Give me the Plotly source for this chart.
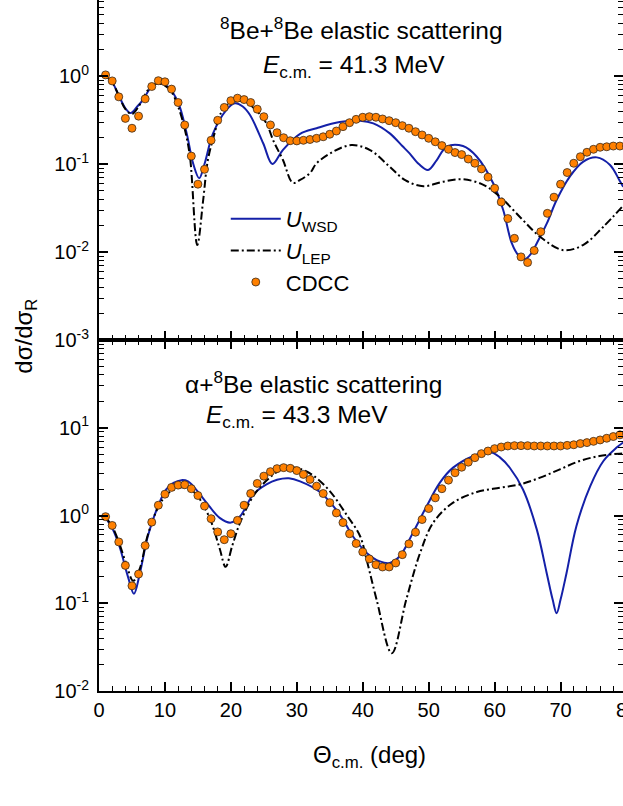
import plotly.graph_objects as go

# ---- data: 8Be+8Be, E_cm = 41.3 MeV (top panel) ----
cdcc_be_x = list(range(1, 81))
cdcc_be_y = [1.03, 0.88, 0.58, 0.33, 0.255, 0.35, 0.55, 0.76, 0.885, 0.86,
             0.71, 0.50, 0.278, 0.123, 0.059, 0.087, 0.186, 0.314, 0.44, 0.525,
             0.56, 0.54, 0.50, 0.42, 0.345, 0.278, 0.227, 0.199, 0.184, 0.183,
             0.186, 0.19, 0.196, 0.204, 0.218, 0.237, 0.266, 0.295, 0.322, 0.34,
             0.345, 0.34, 0.325, 0.311, 0.295, 0.273, 0.255, 0.233, 0.214, 0.196,
             0.179, 0.162, 0.147, 0.135, 0.128, 0.114, 0.102, 0.088, 0.071, 0.053,
             0.037, 0.024, 0.0143, 0.0088, 0.0076, 0.0104, 0.017, 0.0275, 0.042, 0.059,
             0.08, 0.102, 0.121, 0.136, 0.147, 0.155, 0.157, 0.16, 0.16, 0.16]

wsd_be_x = [1, 2, 3, 4, 4.8, 5.8, 6.7, 8, 9.2, 10.5, 12, 13.3, 14.3, 15.2, 16.0,
            17.3, 19.3, 20.6, 21.8, 22.9, 24.9, 26.3, 27.9, 30.5, 33, 36.5, 39.6,
            41.6, 44.1, 46, 47.1, 48.5, 49.9, 51.2, 52.7, 55.2, 57.3, 59.8, 61.3,
            62.6, 63.6, 64.6, 65.5, 66.4, 67.9, 69.4, 71.4, 73.4, 75.5, 77.5, 78.9, 79.5]
wsd_be_y = [1.0, 0.85, 0.6, 0.43, 0.38, 0.45, 0.54, 0.76, 0.83, 0.75, 0.5, 0.223,
            0.1, 0.069, 0.1, 0.223, 0.41, 0.49, 0.45, 0.36, 0.172, 0.1, 0.145, 0.22,
            0.255, 0.30, 0.31, 0.29, 0.223, 0.16, 0.132, 0.1, 0.0855, 0.11, 0.157,
            0.16, 0.121, 0.06, 0.03, 0.0126, 0.0092, 0.0083, 0.0095, 0.0126, 0.021,
            0.039, 0.072, 0.106, 0.119, 0.0975, 0.066, 0.055]

lep_be_x = [1, 2, 3, 4, 5, 6, 7, 8, 9, 10, 11, 12, 13, 13.8, 14.9, 15.8, 16.5,
            17.5, 18.5, 20, 21.4, 22.5, 23.5, 24.5, 25.4, 26.5, 27.9, 29.4, 30.5,
            32, 33, 35.5, 38.3, 41.1, 44.1, 46.5, 49.2, 52.2, 55.2, 58.3, 60.8,
            63.8, 66.9, 70.4, 73.4, 76.5, 79.4]
lep_be_y = [1.0, 0.85, 0.6, 0.42, 0.37, 0.45, 0.62, 0.78, 0.82, 0.78, 0.66, 0.45,
            0.25, 0.12, 0.012, 0.039, 0.11, 0.22, 0.38, 0.5, 0.52, 0.5, 0.43, 0.36,
            0.29, 0.18, 0.111, 0.061, 0.066, 0.079, 0.102, 0.138, 0.164, 0.144,
            0.093, 0.065, 0.056, 0.063, 0.067, 0.058, 0.0426, 0.0252, 0.0149,
            0.0105, 0.012, 0.0194, 0.033]

# ---- data: alpha+8Be, E_cm = 43.3 MeV (bottom panel) ----
cdcc_al_x = list(range(1, 81))
cdcc_al_y = [0.97, 0.77, 0.50, 0.27, 0.158, 0.215, 0.454, 0.84, 1.31, 1.75,
             2.09, 2.22, 2.24, 2.02, 1.69, 1.28, 0.92, 0.65, 0.53, 0.62,
             0.88, 1.31, 1.78, 2.32, 2.81, 3.16, 3.42, 3.51, 3.45, 3.25,
             2.94, 2.58, 2.16, 1.78, 1.40, 1.07, 0.83, 0.62, 0.48, 0.385,
             0.32, 0.275, 0.259, 0.259, 0.288, 0.358, 0.475, 0.645, 0.90, 1.20,
             1.59, 2.02, 2.53, 3.07, 3.55, 4.05, 4.56, 5.07, 5.43, 5.78,
             6.03, 6.2, 6.25, 6.25, 6.25, 6.2, 6.2, 6.2, 6.2, 6.2,
             6.3, 6.4, 6.6, 6.77, 7.0, 7.26, 7.59, 7.94, 8.3, 8.6]

wsd_al_x = [1, 2, 3.1, 4.4, 5.3, 6.2, 7.4, 8.95, 10.2, 11.3, 12.5, 13.5, 14.3,
            16.3, 18.3, 20, 21.4, 23.4, 25.4, 27, 28.8, 30.5, 33.5, 36.5, 38.5,
            40.6, 42.6, 44.1, 45.6, 47.6, 49.7, 51.7, 53.7, 56.8, 59.3, 60.8,
            62.3, 64.3, 66.4, 67.9, 68.8, 69.4, 70.0, 70.9, 72.4, 74.5, 76.5,
            78.5, 79.5]
wsd_al_y = [0.94, 0.72, 0.446, 0.2, 0.128, 0.22, 0.58, 1.28, 1.98, 2.35, 2.53,
            2.45, 2.16, 1.4, 0.94, 0.83, 0.98, 1.74, 2.26, 2.55, 2.65, 2.45, 1.85,
            1.03, 0.58, 0.375, 0.30, 0.288, 0.343, 0.634, 1.28, 2.37, 3.51, 4.77,
            5.3, 4.6, 3.5, 1.98, 0.69, 0.22, 0.11, 0.077, 0.11, 0.22, 0.755, 2.16,
            4.18, 5.94, 6.8]

lep_al_x = [1, 2, 3, 4, 5.2, 6.2, 7.4, 9, 10.5, 12.5, 14, 15.5, 17, 18.3, 19.2,
            20.2, 21.4, 23.4, 25.4, 27.5, 29, 30.5, 32.5, 35, 37.5, 39.6, 40.6,
            42.1, 44.4, 46.6, 48.7, 50.7, 53.7, 57.3, 60.8, 63.8, 66.9, 69.9,
            72.9, 75.9, 78.9, 79.5]
lep_al_y = [0.95, 0.75, 0.5, 0.3, 0.18, 0.25, 0.6, 1.25, 1.8, 2.1, 1.95, 1.45,
            0.85, 0.42, 0.26, 0.45, 0.83, 1.66, 2.5, 3.3, 3.55, 3.4, 2.85, 1.9,
            1.03, 0.58, 0.31, 0.11, 0.027, 0.11, 0.375, 0.83, 1.4, 1.85, 2.07,
            2.26, 2.7, 3.36, 4.18, 4.77, 5.07, 5.1]

x_ticks = [0, 10, 20, 30, 40, 50, 60, 70]
top_yticks = [1e-3, 1e-2, 1e-1, 1e0]
top_ylabels = ["10<sup>-3</sup>", "10<sup>-2</sup>", "10<sup>-1</sup>", "10<sup>0</sup>"]
bot_yticks = [1e-2, 1e-1, 1e0, 1e1, 1e2]
bot_ylabels = ["10<sup>-2</sup>", "10<sup>-1</sup>", "10<sup>0</sup>", "10<sup>1</sup>", ""]

BLUE = "#1420A8"
ORANGE = "#FF8000"
FONT = "Arial, Liberation Sans, sans-serif"
W, H = 623, 806
ML, MB = 99.3, 115
PW, PH = W - ML, H - MB


def px(xp):
    return (xp - ML) / PW


def py(yp):
    return (PH - yp) / PH


def minor_vals(lo, hi):
    return [m * 10 ** e for e in range(lo, hi) for m in range(2, 10)]


fig = go.Figure()

line_wsd = dict(color=BLUE, width=2)
line_lep = dict(color="black", width=2, dash="8px,3px,2px,3px")
mark = dict(color=ORANGE, size=8, line=dict(color="#3a2a1a", width=0.8))

fig.add_trace(go.Scatter(x=wsd_be_x, y=wsd_be_y, mode="lines", line=line_wsd,
                         line_shape="spline", name="<i>U</i><sub>WSD</sub>",
                         legendgroup="a", xaxis="x2", yaxis="y2"))
fig.add_trace(go.Scatter(x=lep_be_x, y=lep_be_y, mode="lines", line=line_lep,
                         line_shape="spline", name="<i>U</i><sub>LEP</sub>",
                         legendgroup="b", xaxis="x2", yaxis="y2"))
fig.add_trace(go.Scatter(x=cdcc_be_x, y=cdcc_be_y, mode="markers", marker=mark,
                         name="CDCC", legendgroup="c", xaxis="x2", yaxis="y2"))

fig.add_trace(go.Scatter(x=wsd_al_x, y=wsd_al_y, mode="lines", line=line_wsd,
                         line_shape="spline", showlegend=False))
fig.add_trace(go.Scatter(x=lep_al_x, y=lep_al_y, mode="lines", line=line_lep,
                         line_shape="spline", showlegend=False))
fig.add_trace(go.Scatter(x=cdcc_al_x, y=cdcc_al_y, mode="markers", marker=mark,
                         showlegend=False))

split = py(340)
xrange_ = [0, (W - ML) / 6.59]

x_common = dict(range=xrange_, showline=True, linecolor="black", linewidth=2,
                ticks="inside", ticklen=9, tickwidth=1.6, tickcolor="black",
                tickvals=x_ticks, showgrid=False, zeroline=False, automargin=False,
                minor=dict(ticks="inside", ticklen=5, tickwidth=1.4,
                           tickcolor="black", dtick=2, tick0=0))
y_common = dict(type="log", showline=True, linecolor="black", linewidth=2,
                ticks="inside", ticklen=9, tickwidth=1.6, tickcolor="black",
                showgrid=False, zeroline=False, mirror="ticks", automargin=False,
                ticklabelstandoff=4,
                tickfont=dict(size=20, color="black", family=FONT))

fig.update_layout(
    width=W, height=H,
    margin=dict(l=ML, r=0, t=0, b=MB, autoexpand=False),
    paper_bgcolor="white", plot_bgcolor="white",
    font=dict(family=FONT, color="black", size=20),
    xaxis=dict(**x_common, anchor="y", domain=[0, 1], mirror="ticks",
               tickfont=dict(size=20, color="black", family=FONT)),
    xaxis2=dict(**x_common, anchor="y2", domain=[0, 1], matches="x",
                showticklabels=False),
    yaxis=dict(**y_common, anchor="x", domain=[0, split], range=[-2, 2],
               tickvals=bot_yticks, ticktext=bot_ylabels,
               minor=dict(ticks="inside", ticklen=5, tickwidth=1.4,
                          tickcolor="black", tickvals=minor_vals(-2, 2))),
    yaxis2=dict(**y_common, anchor="x2", domain=[split, 1],
                range=[-3, 0.864], tickvals=top_yticks, ticktext=top_ylabels,
                minor=dict(ticks="inside", ticklen=5, tickwidth=1.4,
                           tickcolor="black", tickvals=minor_vals(-3, 1))),
    legend=dict(x=px(226), y=py(198), xanchor="left", yanchor="top",
                bgcolor="rgba(0,0,0,0)", font=dict(size=22, family=FONT),
                itemwidth=50, tracegroupgap=0),
    showlegend=True,
)

ann = [
    dict(text="<sup>8</sup>Be+<sup>8</sup>Be elastic scattering", x=px(362), y=py(28), size=24.5),
    dict(text="<i>E</i><sub>c.m.</sub> = 41.3 MeV", x=px(354), y=py(66), size=24.5),
    dict(text="α+<sup>8</sup>Be elastic scattering", x=px(314), y=py(382), size=24.5),
    dict(text="<i>E</i><sub>c.m.</sub> = 43.3 MeV", x=px(297), y=py(416), size=24.5),
    dict(text="Θ<sub>c.m.</sub> (deg)", x=px(370), y=py(756), size=24),
    # last x tick label, cut by the page edge
    dict(text="80", x=px(99.3 + 6.59 * 80), y=py(710), size=20),
]
for a in ann:
    fig.add_annotation(text=a["text"], x=a["x"], y=a["y"], xref="paper", yref="paper",
                       xanchor="center", yanchor="middle", showarrow=False,
                       font=dict(size=a["size"], family=FONT, color="black"))

fig.add_annotation(text="dσ/dσ<sub>R</sub>", x=px(25), y=py(336), xref="paper",
                   yref="paper", textangle=-90, showarrow=False,
                   xanchor="center", yanchor="middle",
                   font=dict(size=24, family=FONT, color="black"))

# page body has a default 8px margin; drop it so the figure sits at (0, 0)
fig.write_html("out.html", config={"displayModeBar": False},
               post_script="document.body.style.margin='0px';document.body.style.overflow='hidden';")
